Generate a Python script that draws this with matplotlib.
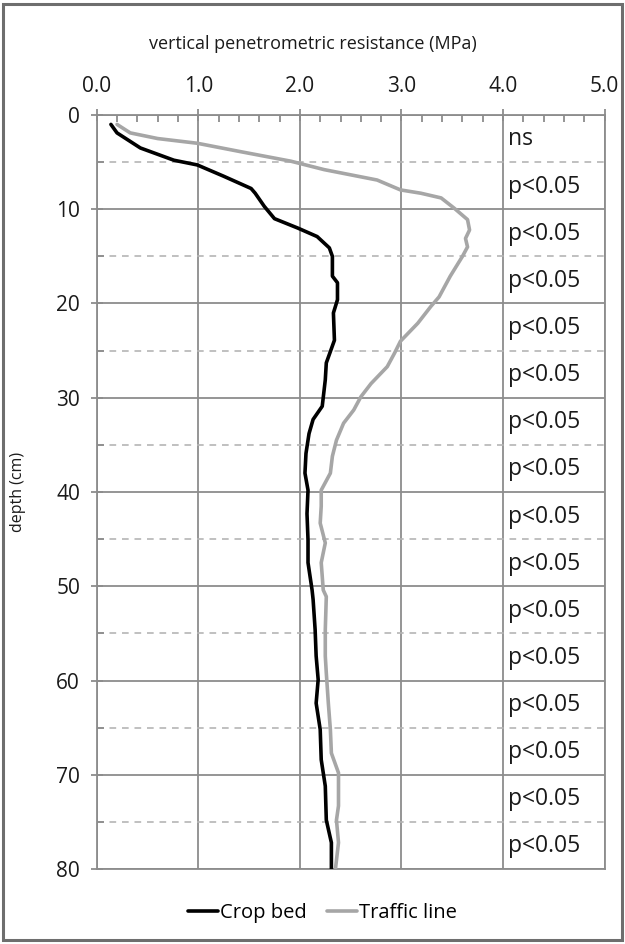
import matplotlib
matplotlib.use("Agg")
import matplotlib.pyplot as plt
from matplotlib.patches import Rectangle
from matplotlib.ticker import MultipleLocator

plt.rcParams['font.family'] = ['Open Sans', 'DejaVu Sans']

# ---- data ----
crop_depth = [1.0, 1.9, 3.5, 4.8, 5.3, 6.5, 7.8, 8.3, 9.7, 11.0, 12.0, 12.9, 14.1, 15.0,
              17.1, 17.8, 19.6, 21.0, 23.9, 26.3, 28.1, 30.9, 32.3, 33.8, 35.9, 38.0,
              39.8, 42.3, 45.1, 47.5, 50.4, 51.4, 54.6, 57.4, 59.9, 62.4, 65.2, 68.4,
              71.2, 74.8, 77.2, 80.0]
crop_res = [0.14, 0.20, 0.43, 0.76, 0.99, 1.25, 1.52, 1.56, 1.65, 1.75, 1.98, 2.17, 2.29, 2.32,
            2.32, 2.37, 2.37, 2.33, 2.34, 2.26, 2.25, 2.22, 2.13, 2.09, 2.06, 2.05,
            2.08, 2.07, 2.08, 2.08, 2.12, 2.13, 2.15, 2.16, 2.18, 2.16, 2.20, 2.21,
            2.25, 2.26, 2.31, 2.31]

traffic_depth = [1.0, 1.9, 2.5, 3.0, 3.9, 4.9, 5.8, 6.9, 7.95, 8.3, 8.8, 9.9, 11.1, 12.2,
                 13.1, 14.0, 15.0, 17.1, 19.3, 20.3, 22.1, 24.0, 25.3, 26.7, 28.5, 29.9,
                 31.3, 32.7, 34.5, 36.2, 38.0, 39.8, 41.5, 43.3, 45.4, 47.5, 50.4, 51.1,
                 54.6, 57.4, 59.2, 62.4, 65.2, 67.7, 69.8, 73.3, 74.8, 77.2, 80.0]
traffic_res = [0.20, 0.33, 0.60, 0.99, 1.42, 1.91, 2.24, 2.76, 2.99, 3.19, 3.39, 3.52, 3.65, 3.67,
               3.63, 3.65, 3.60, 3.48, 3.37, 3.29, 3.16, 2.99, 2.93, 2.86, 2.70, 2.60,
               2.53, 2.43, 2.36, 2.32, 2.30, 2.21, 2.21, 2.20, 2.25, 2.21, 2.23, 2.26,
               2.25, 2.25, 2.26, 2.28, 2.30, 2.31, 2.38, 2.38, 2.36, 2.38, 2.35]

band_labels = ["ns"] + ["p<0.05"] * 15
band_width = 5

x_ticks = [0.0, 1.0, 2.0, 3.0, 4.0, 5.0]
y_ticks = [0, 10, 20, 30, 40, 50, 60, 70, 80]

# ---- figure ----
fig = plt.figure(figsize=(6.25, 9.44), dpi=100)
fig.patches.append(Rectangle((0.005, 0.004), 0.99, 0.992, transform=fig.transFigure,
                             fill=False, edgecolor='#6e6e6e', linewidth=2.2, zorder=0))

ax = fig.add_axes([0.1547, 0.0794, 0.9675 - 0.1547, 0.8782 - 0.0794])
grid_c = '#8c8c8c'
txt_c = '#1a1a1a'

ax.set_xlim(0, 5)
ax.set_ylim(80, 0)
ax.xaxis.tick_top()
ax.xaxis.set_label_position('top')
ax.set_xticks(x_ticks)
ax.set_xticklabels([f"{v:.1f}" for v in x_ticks])
ax.set_yticks(y_ticks)
ax.xaxis.set_minor_locator(MultipleLocator(0.2))
ax.yaxis.set_minor_locator(MultipleLocator(5))

ax.grid(True, which='major', color=grid_c, linewidth=1.3)
ax.grid(True, which='minor', axis='y', color='#b5b5b5', linewidth=1.2, linestyle=(0, (4, 3.5)))
ax.set_axisbelow(True)

for s in ax.spines.values():
    s.set_color(grid_c)
    s.set_linewidth(1.3)

ax.tick_params(axis='x', which='major', direction='inout', length=8, width=1.3, color=grid_c,
               labelsize=15, pad=9, labelcolor=txt_c)
ax.tick_params(axis='x', which='minor', direction='in', length=5, width=1.3, color=grid_c)
ax.tick_params(axis='y', which='major', direction='inout', length=8, width=1.3, color=grid_c,
               labelsize=15, pad=8, labelcolor=txt_c)
ax.tick_params(axis='y', which='minor', direction='in', length=5, width=1.3, color=grid_c)

ax.plot(crop_res, crop_depth, color='black', linewidth=2.6, label='Crop bed',
        solid_capstyle='round', solid_joinstyle='round', zorder=4)
ax.plot(traffic_res, traffic_depth, color='#a6a6a6', linewidth=2.6, label='Traffic line',
        solid_capstyle='round', solid_joinstyle='round', zorder=3)

for i, lab in enumerate(band_labels):
    ax.text(4.05, i * band_width + band_width / 2 + 0.1, lab, fontsize=16.5,
            ha='left', va='center', color=txt_c)

fig.text(0.5, 0.953, "vertical penetrometric resistance (MPa)", ha='center', va='center',
         fontsize=13, color=txt_c)
fig.text(0.029, (0.0794 + 0.8782) / 2, "depth (cm)", rotation=90, ha='center', va='center',
         fontsize=11.5, color=txt_c)

fig.legend(loc='center', bbox_to_anchor=(0.516, 0.033), ncol=2, frameon=False,
           fontsize=14.5, handlelength=1.5, handletextpad=0.1, columnspacing=1.0)

fig.savefig("out.png", dpi=100)
